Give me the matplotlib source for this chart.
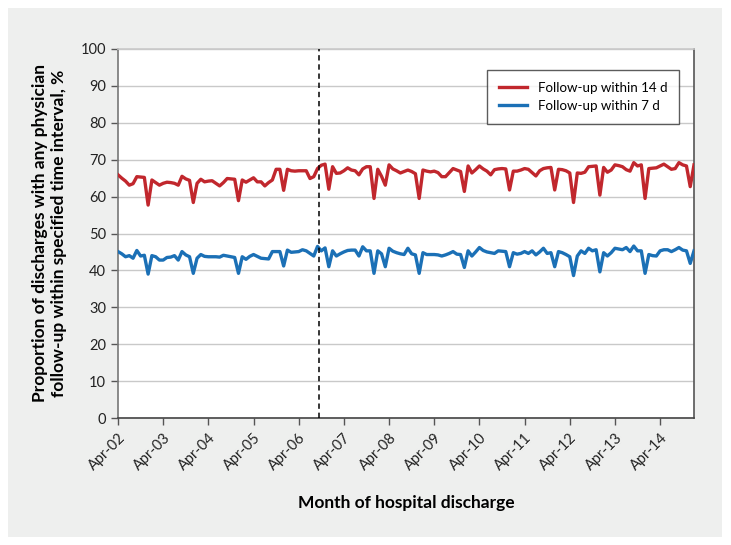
import matplotlib
matplotlib.use("Agg")
import matplotlib.pyplot as plt
from matplotlib.patches import Rectangle
import numpy as np

plt.rcParams['font.family'] = ['Lato', 'DejaVu Sans']

# Monthly values, Apr-02 (index 0) through Jan-15 (index 153)
follow_14d = [
    65.9, 65.0, 64.2, 63.1, 63.5, 65.4, 65.3, 65.2, 57.7, 64.5, 63.8, 63.1,
    63.6, 63.9, 63.8, 63.6, 63.1, 65.5, 64.8, 64.4, 58.4, 63.6, 64.7, 64.0,
    64.2, 64.3, 63.6, 62.9, 63.8, 64.9, 64.8, 64.7, 58.9, 64.5, 63.9, 64.5,
    65.1, 64.0, 64.0, 62.9, 63.8, 64.5, 67.4, 67.4, 61.7, 67.4, 67.0, 66.9,
    67.0, 67.0, 67.0, 64.9, 65.4, 67.6, 68.5, 68.8, 62.0, 68.1, 66.3, 66.4,
    67.0, 67.8, 67.2, 67.0, 65.9, 67.5, 68.1, 68.1, 59.5, 67.4, 65.5, 63.1,
    68.6, 67.5, 67.0, 66.4, 66.8, 67.2, 66.8, 66.2, 59.5, 67.2, 66.9, 66.7,
    66.9, 66.5, 65.4, 65.4, 66.5, 67.6, 67.2, 66.8, 61.4, 68.3, 66.4, 67.3,
    68.3, 67.5, 66.9, 65.9, 67.3, 67.5, 67.6, 67.5, 61.8, 66.9, 66.9, 67.2,
    67.6, 67.4, 66.5, 65.6, 67.0, 67.6, 67.8, 67.9, 61.8, 67.4, 67.3, 67.0,
    66.4, 58.4, 66.4, 66.3, 66.6, 68.1, 68.2, 68.3, 60.4, 67.9, 66.6, 67.2,
    68.6, 68.4, 68.1, 67.3, 66.9, 69.2, 68.3, 68.6, 59.5, 67.6, 67.7, 67.8,
    68.3, 68.8, 68.1, 67.4, 67.6, 69.2, 68.6, 68.3, 62.7, 68.6,
]
follow_7d = [
    45.1, 44.5, 43.7, 44.0, 43.3, 45.4, 43.9, 44.1, 39.0, 44.0, 43.7, 42.8,
    42.8, 43.5, 43.6, 44.0, 42.8, 45.1, 44.2, 43.7, 39.2, 43.3, 44.3, 43.8,
    43.7, 43.7, 43.7, 43.6, 44.1, 43.9, 43.7, 43.5, 39.2, 43.7, 43.0, 43.8,
    44.3, 43.8, 43.3, 43.2, 43.1, 45.1, 45.1, 45.1, 41.2, 45.5, 44.9, 45.0,
    45.1, 45.6, 45.3, 44.6, 43.9, 46.5, 45.3, 46.1, 41.0, 45.3, 43.9, 44.5,
    45.0, 45.4, 45.5, 45.5, 43.9, 46.4, 45.3, 45.3, 39.2, 45.3, 44.5, 41.0,
    46.0, 45.2, 44.8, 44.5, 44.3, 46.0, 44.5, 44.2, 39.2, 44.8, 44.3, 44.3,
    44.3, 44.2, 43.9, 44.2, 44.6, 45.1, 44.4, 44.3, 40.8, 45.3, 43.9, 45.0,
    46.2, 45.4, 45.0, 44.8, 44.6, 45.3, 45.2, 45.1, 41.0, 44.8, 44.4, 44.6,
    45.1, 44.6, 45.3, 44.2, 45.0, 46.0, 44.6, 44.8, 41.0, 45.1, 44.8, 44.3,
    43.7, 38.6, 43.9, 45.3, 44.6, 46.0, 45.3, 45.6, 39.6, 44.8, 43.9, 44.8,
    46.0, 45.8, 45.6, 46.2, 45.1, 46.6, 45.3, 45.3, 39.2, 44.3, 44.0, 43.9,
    45.3, 45.6, 45.6, 45.1, 45.6, 46.2, 45.5, 45.3, 41.9, 45.3,
]
tick_labels = ["Apr-02", "Apr-03", "Apr-04", "Apr-05", "Apr-06", "Apr-07", "Apr-08",
               "Apr-09", "Apr-10", "Apr-11", "Apr-12", "Apr-13", "Apr-14"]
series_names = ["Follow-up within 14 d", "Follow-up within 7 d"]
policy_month = 53.3

months = np.arange(len(follow_14d))

fig = plt.figure(figsize=(7.31, 5.45), dpi=100, facecolor="white")
bg = Rectangle((8/731, 8/545), (722-8)/731, (537-8)/545,
               transform=fig.transFigure, facecolor="#eeefee",
               edgecolor="none", zorder=-10)
fig.patches.append(bg)
ax = fig.add_axes([118/731, 1-418/545, (694-118)/731, (418-49)/545])
ax.set_zorder(1)
ax.set_facecolor("white")

red = "#c1272d"
blue = "#1b70b6"
ax.plot(months, follow_14d, color=red, lw=2.4, label=series_names[0], zorder=3)
ax.plot(months, follow_7d, color=blue, lw=2.4, label=series_names[1], zorder=3)
ax.axvline(policy_month, color="black", lw=1.1, ls=(0, (3.5, 2.5)), zorder=4)

ax.set_xlim(0, len(follow_14d) - 1)
ax.set_ylim(0, 100)
ax.set_yticks(np.arange(0, 101, 10))
ax.yaxis.grid(True, color="#c9c9c9", lw=1)
ax.set_axisbelow(True)
ax.set_xticks(np.arange(0, 12 * len(tick_labels), 12))
ax.set_xticklabels(tick_labels, rotation=45, ha="right", va="top",
                   rotation_mode="anchor", fontsize=10.5, color="#222222")
ax.tick_params(axis="y", labelsize=10.5, labelcolor="#222222", length=5,
               color="#555555", direction="out", width=1)
ax.tick_params(axis="x", length=5, color="#555555", width=1, pad=4)

ax.spines["left"].set_color("#777777")
ax.spines["bottom"].set_color("#444444")
ax.spines["right"].set_color("#555555")
ax.spines["top"].set_color("#c9c9c9")
for s in ax.spines.values():
    s.set_linewidth(1.2)

ax.set_ylabel("Proportion of discharges with any physician\nfollow-up within specified time interval, %",
              fontsize=12.5, fontweight="bold", labelpad=10, linespacing=1.25)
ax.set_xlabel("Month of hospital discharge", fontsize=12.5, fontweight="bold", labelpad=16)

leg = ax.legend(loc="upper right", bbox_to_anchor=(0.986, 0.962), fontsize=9.6,
                frameon=True, fancybox=False, edgecolor="#333333", handlelength=2.1,
                handletextpad=0.8, borderpad=0.9, labelspacing=0.45)
leg.get_frame().set_linewidth(1.0)

fig.savefig("out.png", dpi=100, facecolor=fig.get_facecolor())
